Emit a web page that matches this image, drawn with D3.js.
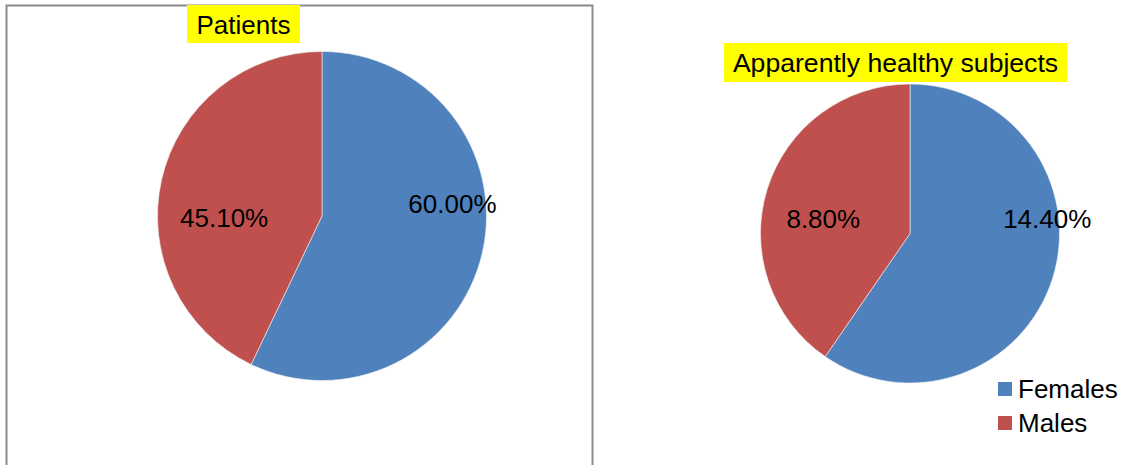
<!DOCTYPE html>
<html>
<head>
<meta charset="utf-8">
<script src="https://cdn.jsdelivr.net/npm/d3@7"></script>
<style>
  body { margin: 0; background: #fff; }
  svg { display: block; font-family: "Liberation Sans", Arial, sans-serif; }
</style>
</head>
<body>
<div id="svg-container"></div>
<script>
const width = 1125
const height = 465

// DATA
const categories = ["Females", "Males"]
const patientsValues = [60.0, 45.1]
const patientsLabels = ["60.00%", "45.10%"]
// slice shares as drawn in the picture (labels read 14.40% / 8.80%)
const healthyValues = [59.6, 40.4]
const healthyLabels = ["14.40%", "8.80%"]
const titles = ["Patients", "Apparently healthy subjects"]

const colorScale = d3
  .scaleOrdinal()
  .domain(categories)
  .range(["#4F81BD", "#C0504D"])

const svg = d3
  .select("#svg-container")
  .append("svg")
  .attr("width", width)
  .attr("height", height)
  .attr("viewBox", [0, 0, width, height])

// FRAME round the left chart
svg
  .append("rect")
  .attr("x", 6.5)
  .attr("y", 5.5)
  .attr("width", 586)
  .attr("height", 520)
  .attr("fill", "none")
  .attr("stroke", "#8a8a8a")
  .attr("stroke-width", 2)

const pies = [
  {
    title: titles[0],
    values: patientsValues,
    labels: patientsLabels,
    cx: 322,
    cy: 216,
    r: 164.5,
    titleX: 243.5,
    titleY: 34,
    titleSize: 26,
    boxW: 113,
    boxY: 5,
    boxH: 38,
    labelPos: [[0.793, -0.073], [-0.595, 0.01]]
  },
  {
    title: titles[1],
    values: healthyValues,
    labels: healthyLabels,
    cx: 910,
    cy: 233.5,
    r: 149.5,
    titleX: 895.5,
    titleY: 72,
    titleSize: 26.6,
    boxW: 343,
    boxY: 43,
    boxH: 39,
    labelPos: [[0.918, -0.1], [-0.58, -0.1]]
  }
]

const pieGenerator = d3
  .pie()
  .sort(null)
  .startAngle(0)
  .endAngle(2 * Math.PI)

pies.forEach((p) => {
  const arcs = pieGenerator(p.values)
  const arcGenerator = d3.arc().innerRadius(0).outerRadius(p.r)

  const g = svg
    .append("g")
    .attr("transform", `translate(${p.cx},${p.cy})`)

  g.selectAll("path")
    .data(arcs)
    .join("path")
    .attr("d", arcGenerator)
    .attr("fill", (d, i) => colorScale(categories[i]))
    .attr("stroke", "#f2f2f2")
    .attr("stroke-width", 0.6)

  g.selectAll("text")
    .data(arcs)
    .join("text")
    .attr("x", (d, i) => p.labelPos[i][0] * p.r)
    .attr("y", (d, i) => p.labelPos[i][1] * p.r)
    .attr("text-anchor", "middle")
    .attr("dominant-baseline", "central")
    .style("font-size", "26px")
    .attr("fill", "#000")
    .text((d, i) => p.labels[i])

  // TITLE with yellow highlight
  svg
    .append("rect")
    .attr("x", p.titleX - p.boxW / 2)
    .attr("y", p.boxY)
    .attr("width", p.boxW)
    .attr("height", p.boxH)
    .attr("fill", "#FFFF00")

  svg
    .append("text")
    .attr("x", p.titleX)
    .attr("y", p.titleY)
    .attr("text-anchor", "middle")
    .style("font-size", p.titleSize + "px")
    .attr("fill", "#000")
    .text(p.title)
})

// LEGEND
const legend = svg
  .append("g")
  .attr("transform", "translate(998,382)")

const legendItems = legend
  .selectAll("g")
  .data(categories)
  .join("g")
  .attr("transform", (d, i) => `translate(0,${i * 34})`)

legendItems
  .append("rect")
  .attr("width", 14)
  .attr("height", 14)
  .attr("fill", (d) => colorScale(d))

legendItems
  .append("text")
  .attr("x", 20)
  .attr("y", 15.5)
  .style("font-size", "26px")
  .attr("fill", "#000")
  .text((d) => d)
</script>
</body>
</html>
